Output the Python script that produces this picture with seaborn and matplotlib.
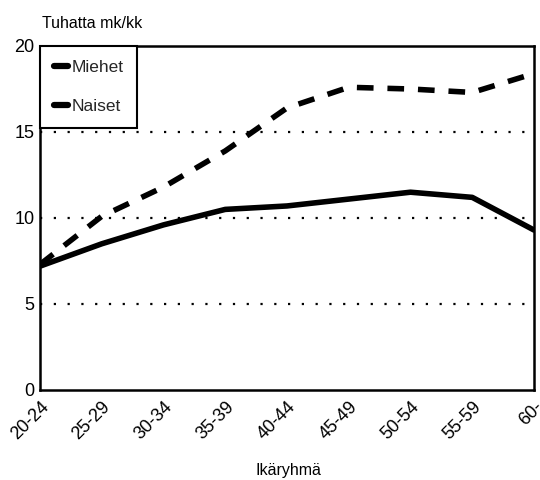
import matplotlib
matplotlib.use("Agg")
import matplotlib.pyplot as plt
import seaborn as sns
import pandas as pd
from matplotlib.lines import Line2D

age_groups = ["20-24", "25-29", "30-34", "35-39", "40-44", "45-49", "50-54", "55-59", "60-"]
miehet = [7.3, 10.1, 11.8, 13.9, 16.4, 17.6, 17.5, 17.3, 18.4]
naiset = [7.2, 8.5, 9.6, 10.5, 10.7, 11.1, 11.5, 11.2, 9.3]
y_ticks = [0, 5, 10, 15, 20]

sns.set_theme(style="white")
plt.rcParams['font.family'] = ['Liberation Sans', 'DejaVu Sans']

df = pd.DataFrame({
    "Ikäryhmä": age_groups * 2,
    "value": miehet + naiset,
    "series": ["Miehet"] * len(age_groups) + ["Naiset"] * len(age_groups),
})

fig = plt.figure(figsize=(5.4, 4.8), dpi=100)
ax = fig.add_axes([40/540, 1 - 390/480, (534-40)/540, (390-46)/480])

sns.lineplot(data=df, x="Ikäryhmä", y="value", style="series",
             dashes={"Miehet": (3.0, 2.5), "Naiset": ""},
             color="black", linewidth=4.0, ax=ax, legend=False, sort=False)

for yv in [5, 10, 15]:
    ax.axhline(yv, color="black", linewidth=1.6, linestyle=(0, (1, 5.2)), zorder=0.5)

ax.set_xlim(0, len(age_groups) - 1)
ax.set_ylim(0, 20)
ax.set_yticks(y_ticks)
ax.set_yticklabels([str(v) for v in y_ticks], fontsize=13)
ax.set_xticks(range(len(age_groups)))
ax.set_xticklabels(age_groups, fontsize=13, rotation=45, ha="right",
                   rotation_mode="anchor")
ax.tick_params(axis="x", direction="in", length=5, width=2, pad=6, colors="black")
ax.tick_params(axis="y", length=0, pad=4, colors="black")
for lab in ax.get_xticklabels() + ax.get_yticklabels():
    lab.set_color("black")
for s in ax.spines.values():
    s.set_visible(True)
    s.set_color("black")
    s.set_linewidth(1.8)
ax.set_xlabel("")
ax.set_ylabel("")
ax.grid(False)

handles = [Line2D([], [], color="black", linewidth=4.5),
           Line2D([], [], color="black", linewidth=4.5)]
leg = ax.legend(handles, ["Miehet", "Naiset"], loc="upper left",
                bbox_to_anchor=(0, 1), borderaxespad=0, fontsize=12.5,
                handlelength=0.8, handletextpad=0.2, labelspacing=1.35,
                borderpad=0.8, fancybox=False, framealpha=1,
                edgecolor="black")
leg.get_frame().set_linewidth(1.5)

fig.text(42/540, 1 - 23/480, "Tuhatta mk/kk", fontsize=11.5, va="center", ha="left", color="black")
fig.text(288/540, 1 - 471/480, "Ikäryhmä", fontsize=11.5, va="center", ha="center", color="black")

fig.savefig("out.png", dpi=100)
